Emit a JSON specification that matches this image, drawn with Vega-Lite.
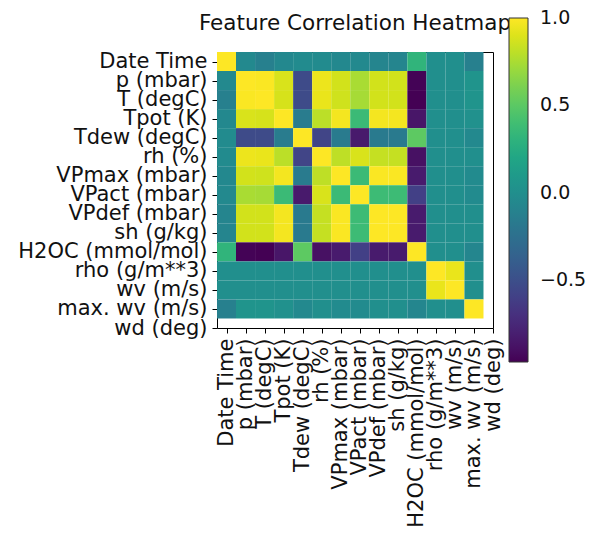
{
  "$schema": "https://vega.github.io/schema/vega-lite/v6.json",
  "width": 276,
  "height": 276,
  "autosize": {"type": "none"},
  "padding": {"left": 217, "top": 52, "right": 99, "bottom": 207},
  "background": "white",
  "title": {
    "text": "Feature Correlation Heatmap",
    "anchor": "middle",
    "frame": "group",
    "baseline": "alphabetic",
    "offset": -10,
    "dy": 23,
    "font": "DejaVu Sans",
    "fontSize": 21.5,
    "fontWeight": "normal",
    "color": "#111",
    "zindex": 0
  },
  "config": {
    "view": {"stroke": "#000", "strokeWidth": 1},
    "axis": {
      "grid": false,
      "domain": false,
      "ticks": true,
      "tickColor": "#000",
      "tickWidth": 1,
      "tickSize": 5,
      "labelFont": "DejaVu Sans",
      "labelFontSize": 21,
      "labelColor": "#111",
      "labelOverlap": false,
      "labelFlush": false,
      "labelBound": false,
      "labelLimit": 0,
      "title": null
    }
  },
  "data": {
    "values": [
      {"row":0,"col":0,"corr":1},{"row":0,"col":1,"corr":-0.04},{"row":0,"col":2,"corr":-0.12},{"row":0,"col":3,"corr":-0.05},{"row":0,"col":4,"corr":-0.03},{"row":0,"col":5,"corr":-0.03},{"row":0,"col":6,"corr":-0.05},{"row":0,"col":7,"corr":-0.04},{"row":0,"col":8,"corr":-0.08},{"row":0,"col":9,"corr":-0.08},{"row":0,"col":10,"corr":0.32},{"row":0,"col":11,"corr":0},{"row":0,"col":12,"corr":0},{"row":0,"col":13,"corr":-0.12},
      {"row":1,"col":0,"corr":-0.04},{"row":1,"col":1,"corr":1},{"row":1,"col":2,"corr":0.99},{"row":1,"col":3,"corr":0.89},{"row":1,"col":4,"corr":-0.53},{"row":1,"col":5,"corr":0.95},{"row":1,"col":6,"corr":0.87},{"row":1,"col":7,"corr":0.75},{"row":1,"col":8,"corr":0.87},{"row":1,"col":9,"corr":0.87},{"row":1,"col":10,"corr":-0.96},{"row":1,"col":11,"corr":0},{"row":1,"col":12,"corr":0},{"row":1,"col":13,"corr":0.04},
      {"row":2,"col":0,"corr":-0.12},{"row":2,"col":1,"corr":0.99},{"row":2,"col":2,"corr":1},{"row":2,"col":3,"corr":0.88},{"row":2,"col":4,"corr":-0.53},{"row":2,"col":5,"corr":0.94},{"row":2,"col":6,"corr":0.86},{"row":2,"col":7,"corr":0.74},{"row":2,"col":8,"corr":0.87},{"row":2,"col":9,"corr":0.87},{"row":2,"col":10,"corr":-0.97},{"row":2,"col":11,"corr":0},{"row":2,"col":12,"corr":0},{"row":2,"col":13,"corr":0.04},
      {"row":3,"col":0,"corr":-0.05},{"row":3,"col":1,"corr":0.89},{"row":3,"col":2,"corr":0.88},{"row":3,"col":3,"corr":1},{"row":3,"col":4,"corr":-0.15},{"row":3,"col":5,"corr":0.8},{"row":3,"col":6,"corr":0.97},{"row":3,"col":7,"corr":0.37},{"row":3,"col":8,"corr":0.97},{"row":3,"col":9,"corr":0.97},{"row":3,"col":10,"corr":-0.86},{"row":3,"col":11,"corr":0},{"row":3,"col":12,"corr":0},{"row":3,"col":13,"corr":0.02},
      {"row":4,"col":0,"corr":-0.03},{"row":4,"col":1,"corr":-0.53},{"row":4,"col":2,"corr":-0.53},{"row":4,"col":3,"corr":-0.15},{"row":4,"col":4,"corr":1},{"row":4,"col":5,"corr":-0.57},{"row":4,"col":6,"corr":-0.16},{"row":4,"col":7,"corr":-0.84},{"row":4,"col":8,"corr":-0.17},{"row":4,"col":9,"corr":-0.17},{"row":4,"col":10,"corr":0.51},{"row":4,"col":11,"corr":0},{"row":4,"col":12,"corr":0},{"row":4,"col":13,"corr":-0.04},
      {"row":5,"col":0,"corr":-0.03},{"row":5,"col":1,"corr":0.95},{"row":5,"col":2,"corr":0.94},{"row":5,"col":3,"corr":0.8},{"row":5,"col":4,"corr":-0.57},{"row":5,"col":5,"corr":1},{"row":5,"col":6,"corr":0.81},{"row":5,"col":7,"corr":0.89},{"row":5,"col":8,"corr":0.83},{"row":5,"col":9,"corr":0.83},{"row":5,"col":10,"corr":-0.89},{"row":5,"col":11,"corr":0},{"row":5,"col":12,"corr":0},{"row":5,"col":13,"corr":0},
      {"row":6,"col":0,"corr":-0.05},{"row":6,"col":1,"corr":0.87},{"row":6,"col":2,"corr":0.86},{"row":6,"col":3,"corr":0.97},{"row":6,"col":4,"corr":-0.16},{"row":6,"col":5,"corr":0.81},{"row":6,"col":6,"corr":1},{"row":6,"col":7,"corr":0.37},{"row":6,"col":8,"corr":0.99},{"row":6,"col":9,"corr":0.99},{"row":6,"col":10,"corr":-0.83},{"row":6,"col":11,"corr":0},{"row":6,"col":12,"corr":0},{"row":6,"col":13,"corr":-0.03},
      {"row":7,"col":0,"corr":-0.04},{"row":7,"col":1,"corr":0.75},{"row":7,"col":2,"corr":0.74},{"row":7,"col":3,"corr":0.37},{"row":7,"col":4,"corr":-0.84},{"row":7,"col":5,"corr":0.89},{"row":7,"col":6,"corr":0.37},{"row":7,"col":7,"corr":1},{"row":7,"col":8,"corr":0.38},{"row":7,"col":9,"corr":0.38},{"row":7,"col":10,"corr":-0.6},{"row":7,"col":11,"corr":0},{"row":7,"col":12,"corr":0},{"row":7,"col":13,"corr":-0.03},
      {"row":8,"col":0,"corr":-0.08},{"row":8,"col":1,"corr":0.87},{"row":8,"col":2,"corr":0.87},{"row":8,"col":3,"corr":0.97},{"row":8,"col":4,"corr":-0.17},{"row":8,"col":5,"corr":0.83},{"row":8,"col":6,"corr":0.99},{"row":8,"col":7,"corr":0.38},{"row":8,"col":8,"corr":1},{"row":8,"col":9,"corr":1},{"row":8,"col":10,"corr":-0.83},{"row":8,"col":11,"corr":0},{"row":8,"col":12,"corr":0},{"row":8,"col":13,"corr":0},
      {"row":9,"col":0,"corr":-0.08},{"row":9,"col":1,"corr":0.87},{"row":9,"col":2,"corr":0.87},{"row":9,"col":3,"corr":0.97},{"row":9,"col":4,"corr":-0.17},{"row":9,"col":5,"corr":0.83},{"row":9,"col":6,"corr":0.99},{"row":9,"col":7,"corr":0.38},{"row":9,"col":8,"corr":1},{"row":9,"col":9,"corr":1},{"row":9,"col":10,"corr":-0.83},{"row":9,"col":11,"corr":0},{"row":9,"col":12,"corr":0},{"row":9,"col":13,"corr":0},
      {"row":10,"col":0,"corr":0.32},{"row":10,"col":1,"corr":-0.96},{"row":10,"col":2,"corr":-0.97},{"row":10,"col":3,"corr":-0.86},{"row":10,"col":4,"corr":0.51},{"row":10,"col":5,"corr":-0.89},{"row":10,"col":6,"corr":-0.83},{"row":10,"col":7,"corr":-0.6},{"row":10,"col":8,"corr":-0.83},{"row":10,"col":9,"corr":-0.83},{"row":10,"col":10,"corr":1},{"row":10,"col":11,"corr":0},{"row":10,"col":12,"corr":0},{"row":10,"col":13,"corr":-0.07},
      {"row":11,"col":0,"corr":0},{"row":11,"col":1,"corr":0},{"row":11,"col":2,"corr":0},{"row":11,"col":3,"corr":0},{"row":11,"col":4,"corr":0},{"row":11,"col":5,"corr":0},{"row":11,"col":6,"corr":0},{"row":11,"col":7,"corr":0},{"row":11,"col":8,"corr":0},{"row":11,"col":9,"corr":0},{"row":11,"col":10,"corr":0},{"row":11,"col":11,"corr":1},{"row":11,"col":12,"corr":0.94},{"row":11,"col":13,"corr":0},
      {"row":12,"col":0,"corr":0},{"row":12,"col":1,"corr":0},{"row":12,"col":2,"corr":0},{"row":12,"col":3,"corr":0},{"row":12,"col":4,"corr":0},{"row":12,"col":5,"corr":0},{"row":12,"col":6,"corr":0},{"row":12,"col":7,"corr":0},{"row":12,"col":8,"corr":0},{"row":12,"col":9,"corr":0},{"row":12,"col":10,"corr":0},{"row":12,"col":11,"corr":0.94},{"row":12,"col":12,"corr":1},{"row":12,"col":13,"corr":0},
      {"row":13,"col":0,"corr":-0.12},{"row":13,"col":1,"corr":0.04},{"row":13,"col":2,"corr":0.04},{"row":13,"col":3,"corr":0.02},{"row":13,"col":4,"corr":-0.04},{"row":13,"col":5,"corr":0},{"row":13,"col":6,"corr":-0.03},{"row":13,"col":7,"corr":-0.03},{"row":13,"col":8,"corr":0},{"row":13,"col":9,"corr":0},{"row":13,"col":10,"corr":-0.07},{"row":13,"col":11,"corr":0},{"row":13,"col":12,"corr":0},{"row":13,"col":13,"corr":1}
    ]
  },
  "mark": {"type": "square", "size": 363, "filled": true, "opacity": 1, "strokeWidth": 0},
  "encoding": {
    "x": {
      "field": "col",
      "type": "quantitative",
      "scale": {"domain": [-0.5, 14], "nice": false, "zero": false},
      "axis": {
        "orient": "bottom",
        "values": [0,1,2,3,4,5,6,7,8,9,10,11,12,13,14],
        "labelExpr": "['Date Time','p (mbar)','T (degC)','Tpot (K)','Tdew (degC)','rh (%)','VPmax (mbar)','VPact (mbar)','VPdef (mbar)','sh (g/kg)','H2OC (mmol/mol)','rho (g/m**3)','wv (m/s)','max. wv (m/s)','wd (deg)'][datum.value]",
        "labelAngle": 270,
        "labelAlign": "right",
        "labelBaseline": "middle",
        "labelPadding": 5
      }
    },
    "y": {
      "field": "row",
      "type": "quantitative",
      "scale": {"domain": [-0.5, 14], "nice": false, "zero": false, "reverse": true},
      "axis": {
        "orient": "left",
        "values": [0,1,2,3,4,5,6,7,8,9,10,11,12,13,14],
        "labelExpr": "['Date Time','p (mbar)','T (degC)','Tpot (K)','Tdew (degC)','rh (%)','VPmax (mbar)','VPact (mbar)','VPdef (mbar)','sh (g/kg)','H2OC (mmol/mol)','rho (g/m**3)','wv (m/s)','max. wv (m/s)','wd (deg)'][datum.value]",
        "labelAlign": "right",
        "labelBaseline": "middle",
        "labelPadding": 5
      }
    },
    "color": {
      "field": "corr",
      "type": "quantitative",
      "scale": {"scheme": "viridis", "domain": [-0.97, 1.001], "nice": false, "zero": false},
      "legend": {
        "orient": "none",
        "legendX": 292,
        "legendY": -34,
        "direction": "vertical",
        "title": null,
        "gradientLength": 344,
        "gradientThickness": 19,
        "gradientStrokeColor": "#333",
        "gradientStrokeWidth": 1,
        "values": [-0.5, 0, 0.5, 1],
        "format": ".1f",
        "labelFont": "DejaVu Sans",
        "labelFontSize": 19,
        "labelColor": "#111",
        "labelOffset": 12,
        "labelOverlap": false,
        "padding": 0,
        "zindex": 1
      }
    }
  }
}
